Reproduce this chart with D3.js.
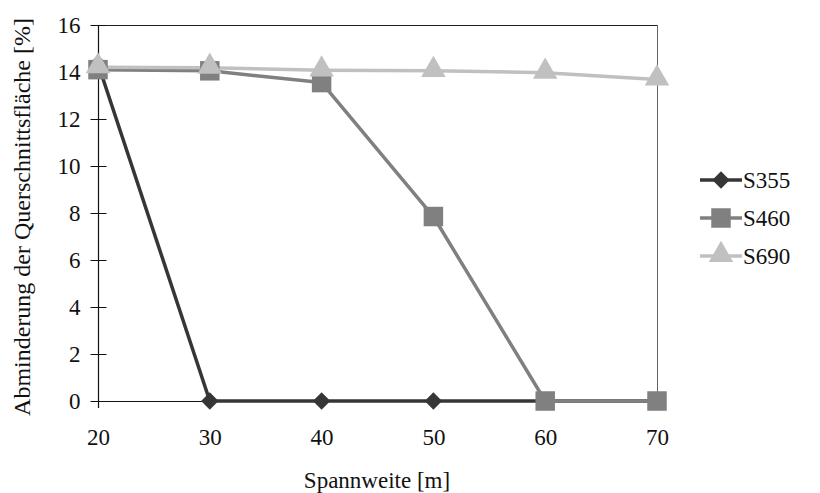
<!DOCTYPE html>
<html>
<head>
<meta charset="utf-8">
<script src="https://cdn.jsdelivr.net/npm/d3@7"></script>
<style>
  html, body { margin: 0; padding: 0; background: #fff; }
  svg { display: block; }
  text { font-family: "Liberation Serif", "Times New Roman", serif; fill: #111; }
</style>
</head>
<body>
<svg id="chart" width="820" height="493"></svg>
<script>
// Spannweite in m
const spans = [20, 30, 40, 50, 60, 70];
// Abminderung der Querschnittsfläche in % je Stahlgüte
const s355 = [14.35, 0, 0, 0, 0, 0];
const s460 = [14.1, 14.05, 13.55, 7.85, 0, 0];
const s690 = [14.2, 14.18, 14.07, 14.05, 13.97, 13.68];
const yTicks = [0, 2, 4, 6, 8, 10, 12, 14, 16];
const xTicks = [20, 30, 40, 50, 60, 70];

const series = [
  { name: "S355", values: s355, color: "#363636", marker: "diamond" },
  { name: "S460", values: s460, color: "#808080", marker: "square" },
  { name: "S690", values: s690, color: "#c0c0c0", marker: "triangle" }
];

const FONT = 23;
const svg = d3.select("#chart");
const plot = { left: 98, right: 657, top: 25, bottom: 401 };

const x = d3.scaleLinear().domain([20, 70]).range([plot.left, plot.right]);
const y = d3.scaleLinear().domain([0, 16]).range([plot.bottom, plot.top]);

// Rahmen oben und rechts
svg.append("line").attr("x1", plot.left).attr("x2", plot.right)
  .attr("y1", plot.top + 0.5).attr("y2", plot.top + 0.5)
  .attr("stroke", "#222").attr("stroke-width", 1);
svg.append("line").attr("x1", plot.right + 0.5).attr("x2", plot.right + 0.5)
  .attr("y1", plot.top).attr("y2", plot.bottom)
  .attr("stroke", "#666").attr("stroke-width", 1);

// y-Achse mit durchgehenden Teilstrichen
const yAxis = d3.axisLeft(y).tickValues(yTicks).tickSize(0).tickPadding(18);
const gy = svg.append("g").attr("transform", `translate(${plot.left + 0.5},0)`).call(yAxis);
gy.select(".domain").remove();
gy.selectAll(".tick text").attr("font-size", FONT).attr("font-family", "Liberation Serif").attr("fill", "#111");
gy.selectAll(".tick").append("line")
  .attr("x1", -8).attr("x2", 8).attr("stroke", "#111").attr("stroke-width", 1);
svg.append("line").attr("x1", plot.left + 0.5).attr("x2", plot.left + 0.5)
  .attr("y1", plot.top).attr("y2", plot.bottom + 7)
  .attr("stroke", "#111").attr("stroke-width", 1.2);

// x-Achse
const xAxis = d3.axisBottom(x).tickValues(xTicks).tickSize(0).tickPadding(27).tickFormat(d3.format("d"));
const gx = svg.append("g").attr("transform", `translate(0,${plot.bottom + 0.5})`).call(xAxis);
gx.select(".domain").remove();
gx.selectAll(".tick text").attr("font-size", FONT).attr("font-family", "Liberation Serif").attr("fill", "#111");
svg.append("line").attr("x1", plot.left).attr("x2", plot.right)
  .attr("y1", plot.bottom + 0.5).attr("y2", plot.bottom + 0.5)
  .attr("stroke", "#111").attr("stroke-width", 1.2);

// Marker-Symbole
const symbolFor = {
  diamond: d3.symbol().type(d3.symbolSquare).size(150),
  square: d3.symbol().type(d3.symbolSquare).size(380),
  triangle: d3.symbol().type(d3.symbolTriangle).size(260)
};
function drawMarker(g, s, cx, cy) {
  const p = g.append("path")
    .attr("d", symbolFor[s.marker]())
    .attr("fill", s.color);
  if (s.marker === "diamond") p.attr("transform", `translate(${cx},${cy}) rotate(45)`);
  else if (s.marker === "triangle") p.attr("transform", `translate(${cx},${cy - 1})`);
  else p.attr("transform", `translate(${cx},${cy})`);
}

const line = d3.line().x((d, i) => x(spans[i])).y(d => y(d));
const gSeries = svg.append("g");
series.forEach(s => {
  gSeries.append("path").datum(s.values)
    .attr("d", line).attr("fill", "none")
    .attr("stroke", s.color).attr("stroke-width", 3.5)
    .attr("stroke-linejoin", "round");
});
series.forEach(s => {
  s.values.forEach((v, i) => drawMarker(gSeries, s, x(spans[i]), y(v)));
});

// Legende
const legendRows = [180, 218, 256];
series.forEach((s, i) => {
  const g = svg.append("g");
  g.append("line").attr("x1", 700).attr("x2", 742)
    .attr("y1", legendRows[i]).attr("y2", legendRows[i])
    .attr("stroke", s.color).attr("stroke-width", 3.5);
  drawMarker(g, s, 721, legendRows[i]);
  g.append("text").attr("x", 743).attr("y", legendRows[i] + 8)
    .attr("font-size", FONT).text(s.name);
});

// Achsentitel
svg.append("text").attr("x", 377).attr("y", 488)
  .attr("text-anchor", "middle").attr("font-size", FONT).text("Spannweite [m]");
svg.append("text")
  .attr("transform", `translate(30,217) rotate(-90)`)
  .attr("text-anchor", "middle").attr("font-size", 24)
  .text("Abminderung der Querschnittsfläche [%]");
</script>
</body>
</html>
